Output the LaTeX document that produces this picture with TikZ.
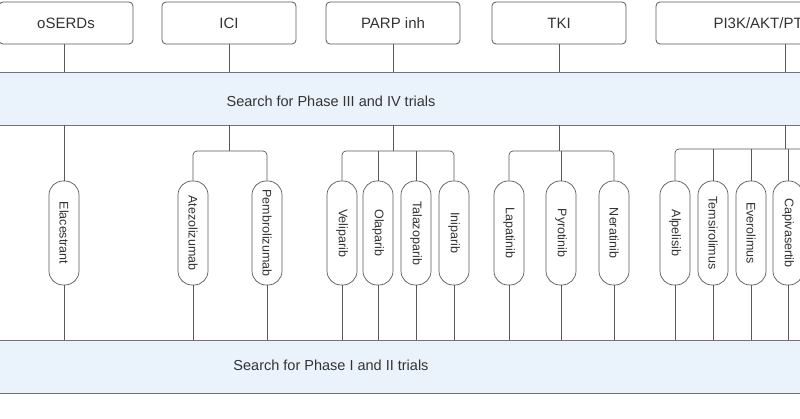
\documentclass[tikz,border=0pt]{standalone}
\usepackage{fontspec}
\setmainfont{Liberation Sans}
\definecolor{bandc}{HTML}{EAF2FC}
\begin{document}
\begin{tikzpicture}[x=1pt,y=-1pt,
  ln/.style={draw=black!65,line width=0.7pt},
  cls/.style={draw=black!65,line width=0.8pt,rounded corners=4pt,fill=white,minimum height=42pt,font=\fontsize{15}{17}\selectfont,text=black!80},
  band/.style={draw=black!55,line width=0.9pt,fill=bandc},
  pill/.style={draw=black!65,line width=0.7pt,rounded corners=14pt,fill=white,rotate=-90,minimum width=104pt,minimum height=30pt,inner sep=1pt,font=\fontsize{12.5}{14}\selectfont,text=black!80}]
\useasboundingbox (0,0) rectangle (800,419);
% bands
\path[band] (-5,72) rectangle (805,125);
\node[text=black!80,font=\fontsize{14.5}{17}\selectfont] (b1) at (331,101) {Search for Phase III and IV trials};
\path[band] (-5,340) rectangle (805,393);
\node[text=black!80,font=\fontsize{14.5}{17}\selectfont] (b2) at (331,365) {Search for Phase I and II trials};
% class boxes
\node[cls,minimum width=134pt] (c1) at (66,23) {oSERDs};
\node[cls,minimum width=134pt] (c2) at (229,23) {ICI};
\node[cls,minimum width=134pt] (c3) at (393,23) {PARP inh};
\node[cls,minimum width=134pt] (c4) at (559,23) {TKI};
\node[cls,minimum width=250pt] (c5) at (781,23) {};
\node[anchor=west,font=\fontsize{15}{17}\selectfont,text=black!80] (c5t) at (710,23) {PI3K/AKT/PTEN};
% pills
\foreach \n/\x/\t in {p1/64/Elacestrant,p2/193/Atezolizumab,p3/267/Pembrolizumab,p4/342/Veliparib,p5/378/Olaparib,p6/416/Talazoparib,p7/454/Iniparib,p8/509/Lapatinib,p9/561/Pyrotinib,p10/614/Neratinib,p11/675/Alpelisib,p12/713/Temsirolimus,p13/751/Everolimus,p14/788/Capivasertib}
  {\node[pill] (\n) at (\x,233) {\t};
   \draw[ln] (\n.east) -- (\x,340);}
% stems
\coordinate (j2) at (229,151); \coordinate (j3) at (393,151);
\coordinate (j4) at (559,151); \coordinate (j5) at (785,149);
\draw[ln] (c1.south -| p1) -- (64,72);
\draw[ln] (64,125) -- (p1.west);
\draw[ln] (c2.south) -- (229,72);
\draw[ln] (229,125) -- (j2);
\draw[ln] (c3.south) -- (393,72);
\draw[ln] (393,125) -- (j3);
\draw[ln] (c4.south) -- (559,72);
\draw[ln] (559,125) -- (j4);
\draw[ln] (c5.south -| j5) -- (785,72);
\draw[ln] (785,125) -- (j5);
\draw[ln,rounded corners=4pt] (p2.west) |- (j2) -| (p3.west);
\draw[ln,rounded corners=4pt] (p4.west) |- (j3) -| (p7.west);
\draw[ln] (p5.west) -- (p5.west |- j3);
\draw[ln] (p6.west) -- (p6.west |- j3);
\draw[ln,rounded corners=4pt] (p8.west) |- (j4) -| (p10.west);
\draw[ln] (p9.west) -- (p9.west |- j4);
\draw[ln,rounded corners=4pt] (p11.west) |- (810,149);
\draw[ln] (p12.west) -- (p12.west |- j5);
\draw[ln] (p13.west) -- (p13.west |- j5);
\draw[ln] (p14.west) -- (p14.west |- j5);
\end{tikzpicture}
\end{document}
